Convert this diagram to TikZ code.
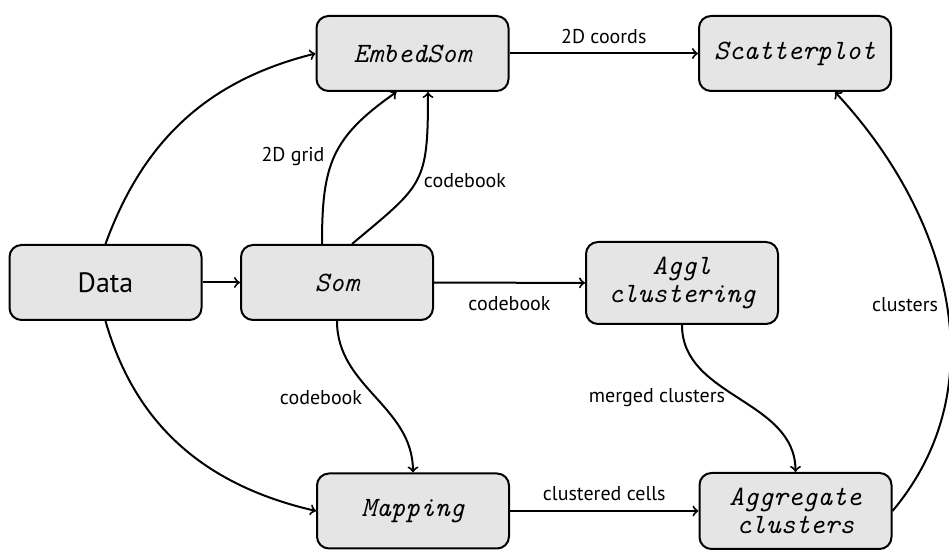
\documentclass[tikz,border=0pt]{standalone}
\usepackage{fontspec}
\setmainfont{PT Sans}
\begin{document}
\begin{tikzpicture}[x=0.5pt,y=0.5pt,
  box/.style={draw, line width=1pt, fill=black!10, rounded corners=6pt,
    minimum width=96pt, minimum height=37.5pt, align=center, inner sep=2pt,
    font=\fontsize{14}{14}\selectfont\ttfamily\itshape},
  conn/.style={->, line width=1pt},
  lbl/.style={font=\fontsize{10}{12}\selectfont, inner sep=0pt}]
\useasboundingbox (0,0) rectangle (949,550);
% nodes
\node[box, font=\fontsize{14}{14}\selectfont] (data) at (105.5,267.5) {Data};
\node[box] (som) at (337,267.5) {Som};
\node[box, minimum height=41pt] (aggl) at (682,267) {Aggl\\clustering};
\node[box] (embed) at (412.5,496.5) {EmbedSom};
\node[box] (scatter) at (795,496.5) {Scatterplot};
\node[box] (mapping) at (413,39) {Mapping};
\node[box, minimum height=38pt] (aggr) at (795.5,39) {Aggregate\\clusters};
% connectors
\draw[conn] (data) -- (som);
\draw[conn] (data.north) to[out=70,in=194] (embed.west);
\draw[conn] (data.south) to[out=-74,in=167] (mapping.west);
\draw[conn] ([xshift=-7.5pt]som.north) to[out=90,in=-145,looseness=1.2] ([xshift=-8pt]embed.south);
\draw[conn] ([xshift=7.5pt]som.north) to[out=40,in=-90,looseness=1.4] ([xshift=7.75pt]embed.south);
\draw[conn] (som) -- node[lbl,yshift=-10.5pt] (lcb2) {codebook} (aggl);
\draw[conn] (som.south) to[out=-90,in=90] (mapping.north);
\draw[conn] (embed) -- node[lbl,yshift=8.7pt] (lcoords) {2D coords} (scatter);
\draw[conn] (mapping) -- node[lbl,yshift=8.7pt] (lcells) {clustered cells} (aggr);
\draw[conn] (aggl.south) to[out=-90,in=90] (aggr.north);
\draw[conn] (aggr.east) to[out=50,in=-47] ([xshift=20pt]scatter.south);
% labels of curved connectors
\node[lbl] (lgrid) at (293,393) {2D grid};
\node[lbl] (lcb1) at (465,369) {codebook};
\node[lbl] (lcb3) at (321,152) {codebook};
\node[lbl] (lmerged) at (657,152) {merged clusters};
\node[lbl] (lclusters) at (905,245) {clusters};
\end{tikzpicture}
\end{document}
